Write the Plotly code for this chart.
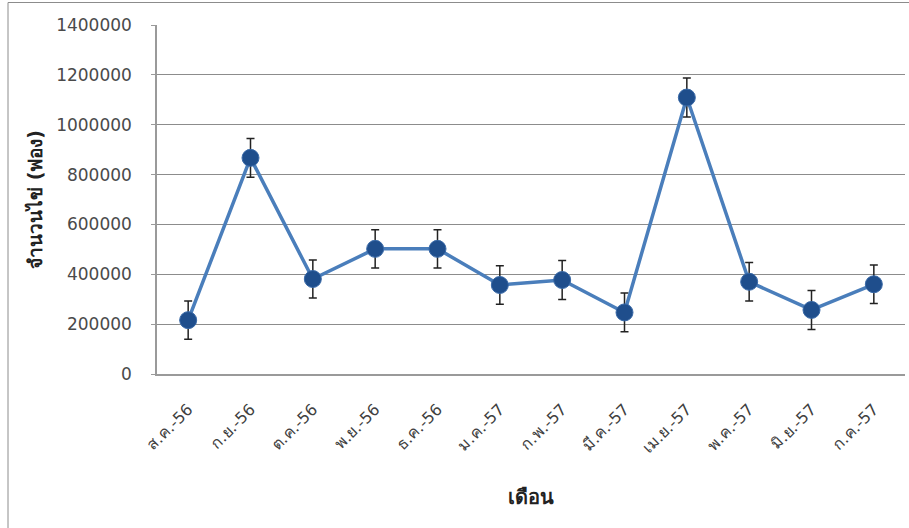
import plotly.graph_objects as go

months = ["ส.ค.-56", "ก.ย.-56", "ต.ค.-56", "พ.ย.-56", "ธ.ค.-56", "ม.ค.-57",
          "ก.พ.-57", "มี.ค.-57", "เม.ย.-57", "พ.ค.-57", "มิ.ย.-57", "ก.ค.-57"]
eggs = [216000, 867000, 381000, 502000, 502000, 357000,
        377000, 247000, 1109000, 370000, 257000, 360000]
err = [77000, 78000, 76000, 77000, 77000, 77000,
       78000, 78000, 78000, 77000, 78000, 77000]
y_ticks = [0, 200000, 400000, 600000, 800000, 1000000, 1200000, 1400000]

W, H = 909, 528
L, R, T, B = 157, 4, 25, 154

fig = go.Figure()
fig.add_trace(go.Scatter(
    x=months, y=eggs, mode="lines+markers",
    line=dict(color="#4a7ebb", width=3.5),
    marker=dict(size=17, color="#1f4e8c", line=dict(color="#3a6aa8", width=1)),
    error_y=dict(type="data", array=err, visible=True, color="#222222",
                 thickness=1.5, width=4),
    showlegend=False,
))

pw = W - L - R
ph = H - T - B
def px_x(p):
    return (p - L) / pw
def px_y(p):
    return (H - B - p) / ph

fig.add_shape(type="rect", xref="paper", yref="paper",
              x0=px_x(8), x1=px_x(915), y0=px_y(540), y1=px_y(2.5),
              line=dict(color="#8c8c8c", width=1), fillcolor="rgba(0,0,0,0)",
              layer="below")

fig.update_layout(
    width=W, height=H,
    margin=dict(l=L, r=R, t=T, b=B),
    paper_bgcolor="white", plot_bgcolor="white",
    font=dict(family="DejaVu Sans, Tahoma, sans-serif", color="#404040"),
    xaxis=dict(
        type="category", tickangle=-45,
        tickfont=dict(size=16, color="#404040"),
        showgrid=False, showline=True, linecolor="#9a9a9a", linewidth=1.5,
        ticks="", ticklabelstandoff=18,
        title=dict(text="<b>เดือน</b>", font=dict(size=20, color="#222222"), standoff=34),
        range=[-0.5, 11.5],
    ),
    yaxis=dict(
        range=[0, 1400000], tickvals=y_ticks,
        ticktext=[str(v) for v in y_ticks],
        tickfont=dict(size=17, color="#4a4a4a"),
        showgrid=True, gridcolor="#8c8c8c", gridwidth=1,
        showline=True, linecolor="#9a9a9a", linewidth=1.5,
        ticks="outside", ticklen=4, tickcolor="#9a9a9a", ticklabelstandoff=16,
        zeroline=False,
        title=dict(text="<b>จำนวนไข่ (ฟอง)</b>", font=dict(size=19, color="#222222"), standoff=8),
    ),
)

fig.write_html("out.html", config={"displayModeBar": False},
               post_script="document.body.style.margin='0';document.body.style.overflow='hidden';")
